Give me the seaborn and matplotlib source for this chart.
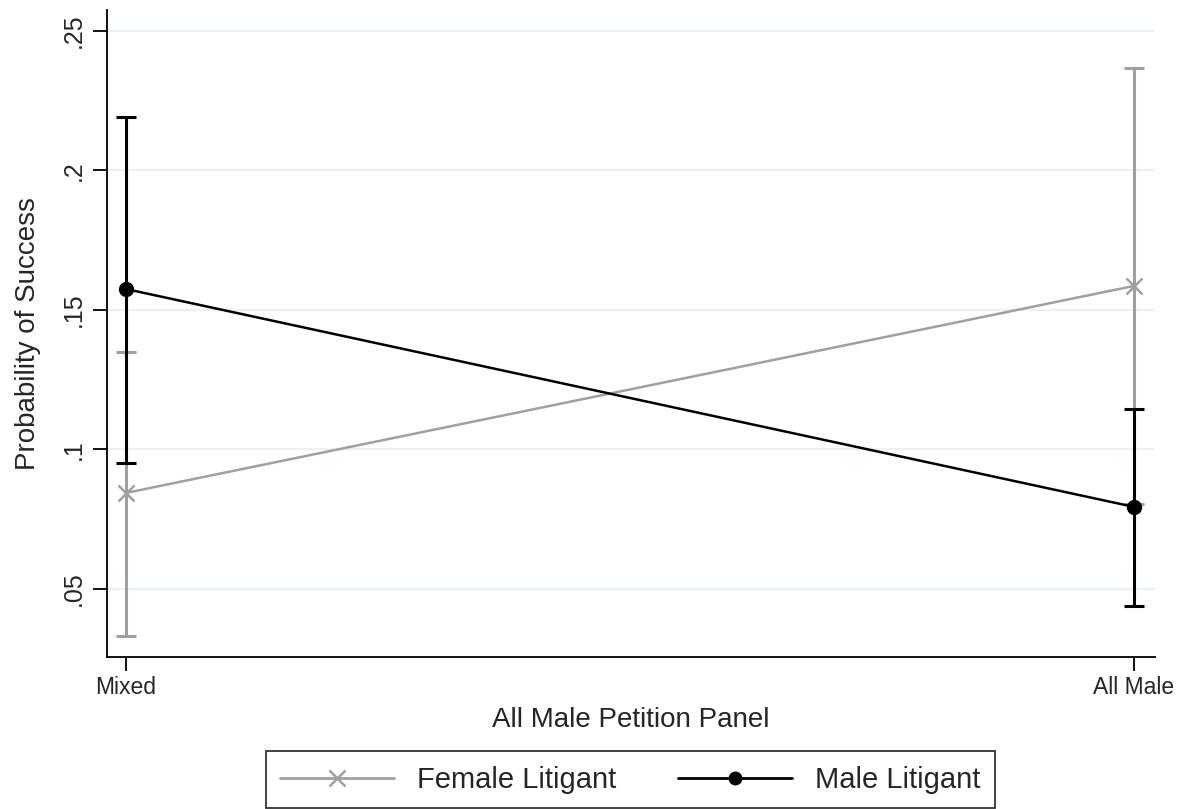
import pandas as pd
import numpy as np
import seaborn as sns
import matplotlib.pyplot as plt
from matplotlib.lines import Line2D

sns.set_style('white')
plt.rcParams['font.family'] = ['Liberation Sans', 'DejaVu Sans']

# estimates and 95% CIs
panels = ['Mixed', 'All Male']
female_est = [0.0844, 0.1586]
female_lo = [0.0332, 0.0806]
female_hi = [0.1350, 0.2367]
male_est = [0.1575, 0.0794]
male_lo = [0.0952, 0.0439]
male_hi = [0.2192, 0.1145]

groups = {
    'Female Litigant': (female_est, female_lo, female_hi),
    'Male Litigant': (male_est, male_lo, male_hi),
}
colors = {'Female Litigant': '#a0a0a0', 'Male Litigant': '#000000'}
markers = {'Female Litigant': 'x', 'Male Litigant': 'o'}

# long table: low / estimate / high per point, median = estimate, min-max = CI
rows = []
for g, (est, lo, hi) in groups.items():
    for i in range(len(panels)):
        for v in (lo[i], est[i], hi[i]):
            rows.append({'group': g, 'x': i, 'prob': v})
df = pd.DataFrame(rows)

fig = plt.figure(figsize=(11.87, 8.09), dpi=100)
ax = fig.add_axes([0.0901, 0.1879, 0.973 - 0.0901, 0.9876 - 0.1879])

for y in [0.05, 0.1, 0.15, 0.2, 0.25]:
    ax.axhline(y, color='#eaf2f3', lw=1.6, zorder=0)

for g in groups:
    is_f = g == 'Female Litigant'
    sns.lineplot(data=df[df['group'] == g], x='x', y='prob', ax=ax,
                 estimator='median', errorbar=lambda v: (v.min(), v.max()),
                 err_style='bars', color=colors[g], lw=1.8,
                 marker=markers[g], markersize=12 if is_f else 11,
                 markeredgecolor=colors[g],
                 markeredgewidth=1.8 if is_f else 0,
                 err_kws={'capsize': 7, 'elinewidth': 2.2, 'capthick': 2.2},
                 legend=False)

ax.set_xlim(-0.0188, 1.0208)
ax.set_ylim(0.0256, 0.2575)
ax.set_xticks([0, 1])
ax.set_xticklabels(panels, fontsize=16.5)
ax.set_yticks([0.05, 0.1, 0.15, 0.2, 0.25])
ax.set_yticklabels(['.05', '.1', '.15', '.2', '.25'], fontsize=18, rotation=90, va='center')
ax.tick_params(axis='both', direction='out', length=10, width=1.3, color='black',
               left=True, bottom=True)
ax.tick_params(axis='y', pad=5)
ax.set_xlabel('All Male Petition Panel', fontsize=20, labelpad=6)
ax.set_ylabel('Probability of Success', fontsize=20, labelpad=15)

sns.despine(ax=ax, top=True, right=True)
for s in ['left', 'bottom']:
    ax.spines[s].set_color('black')
    ax.spines[s].set_linewidth(1.3)

handles = [Line2D([], [], color=colors[g], lw=2, marker=markers[g],
                  markersize=11 if g == 'Female Litigant' else 10,
                  markeredgewidth=1.8 if g == 'Female Litigant' else 0)
           for g in groups]
leg = fig.legend(handles, list(groups), loc='center', ncol=2,
                 bbox_to_anchor=(0.531, 0.036), bbox_transform=fig.transFigure,
                 fontsize=21, frameon=True, fancybox=False, edgecolor='black',
                 handlelength=3.9, columnspacing=2.1, borderpad=0.5,
                 handletextpad=0.8)
leg.get_frame().set_linewidth(1.3)

fig.savefig('out.png', dpi=100)
